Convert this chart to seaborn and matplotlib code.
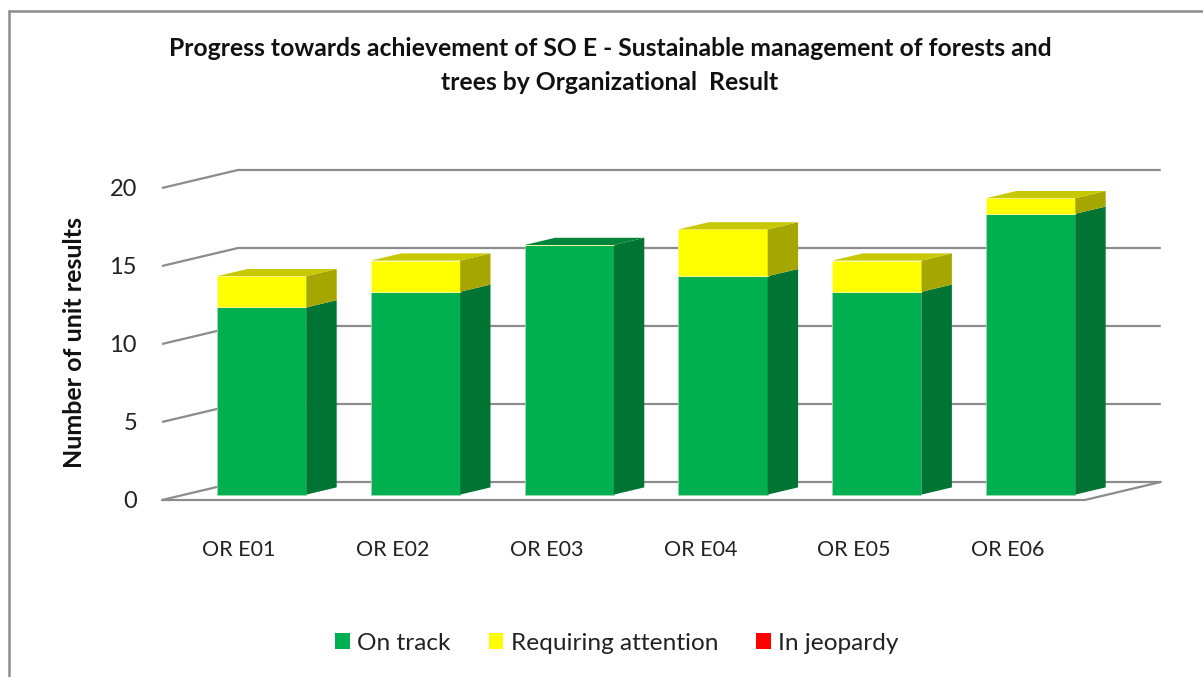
import matplotlib
matplotlib.use("Agg")
import matplotlib.pyplot as plt
from matplotlib.patches import Polygon, Patch
from matplotlib.lines import Line2D
import numpy as np
import pandas as pd
import seaborn as sns

# ---- data ----
categories = ["OR E01", "OR E02", "OR E03", "OR E04", "OR E05", "OR E06"]
on_track = [12, 13, 16, 14, 13, 18]
requiring_attention = [2, 2, 0, 3, 2, 1]
in_jeopardy = [0, 0, 0, 0, 0, 0]
series_names = ["On track", "Requiring attention", "In jeopardy"]
y_ticks = [0, 5, 10, 15, 20]
title_lines = ["Progress towards achievement of SO E - Sustainable management of forests and",
               "trees by Organizational  Result"]
y_label = "Number of unit results"

# ---- style ----
sns.set_theme(style="white")
plt.rcParams["font.family"] = ["Lato", "DejaVu Sans"]

front_cols = ["#00B050", "#FFFF00", "#FF0000"]
side_cols = ["#007433", "#A6A600", "#A60000"]
top_cols = ["#00853B", "#C8C800", "#C80000"]
grid_col = "#8C8C8C"

W, H = 1203, 677
fig = plt.figure(figsize=(W / 100, H / 100), dpi=100)

# 3D projection parameters (data units)
DX, DY = 0.494, 1.154      # full depth offset of back wall
D_FRONT, D_BACK = 0.30, 0.70
BAR_W = 0.58

xl, xr = -0.5, 6.05
yb, yt = 0.0, 21.5
px_x, px_y = 153.8, 15.6
left_px, bottom_px = 162, 500
ax = fig.add_axes([left_px / W, (H - bottom_px) / H,
                   (xr - xl) * px_x / W, (yt - yb) * px_y / H])
ax.set_xlim(xl, xr)
ax.set_ylim(yb, yt)
for s in ax.spines.values():
    s.set_visible(False)

n = len(categories)
idx = np.arange(n)

# walls / gridlines
for v in y_ticks:
    ax.plot([xl, xl + DX, n - 0.5 + DX], [v, v + DY, v + DY],
            color=grid_col, lw=1.6, zorder=1, clip_on=False, solid_capstyle="butt")
# floor
ax.plot([xl, n - 0.5, n - 0.5 + DX], [0, 0, DY], color=grid_col, lw=1.6,
        zorder=1, clip_on=False)

fx = D_FRONT * DX
fy = D_FRONT * DY
depth_x = (D_BACK - D_FRONT) * DX
depth_y = (D_BACK - D_FRONT) * DY

stack = [np.array(on_track, float), np.array(requiring_attention, float),
         np.array(in_jeopardy, float)]
bottoms = np.zeros(n)
df_pos = idx + fx
tops_idx = np.zeros(n, dtype=int)
for k, vals in enumerate(stack):
    for i in range(n):
        if vals[i] > 0:
            tops_idx[i] = k
for k, vals in enumerate(stack):
    dfk = pd.DataFrame({"x": df_pos, "v": vals})
    if vals.sum() > 0:
        sns.barplot(data=dfk, x="x", y="v", native_scale=True, width=BAR_W,
                    color=front_cols[k], saturation=1, bottom=bottoms + fy, ax=ax,
                    edgecolor="#9ad8b0" if k == 0 else "#ffff99", linewidth=0.6, zorder=3)
    for i in range(n):
        if vals[i] <= 0:
            continue
        xr_ = df_pos[i] + BAR_W / 2
        xl_ = df_pos[i] - BAR_W / 2
        y0 = bottoms[i] + fy
        y1 = bottoms[i] + vals[i] + fy
        side = Polygon([[xr_, y0], [xr_ + depth_x, y0 + depth_y],
                        [xr_ + depth_x, y1 + depth_y], [xr_, y1]],
                       closed=True, facecolor=side_cols[k], edgecolor="none", zorder=3)
        ax.add_patch(side)
        if tops_idx[i] == k:
            top = Polygon([[xl_, y1], [xr_, y1], [xr_ + depth_x, y1 + depth_y],
                           [xl_ + depth_x, y1 + depth_y]],
                          closed=True, facecolor=top_cols[k], edgecolor="none", zorder=3)
            ax.add_patch(top)
    bottoms = bottoms + vals

ax.set_xlim(xl, xr)
ax.set_ylim(yb, yt)
ax.set_xticks(idx)
ax.set_xticklabels(categories, fontsize=15.5, color="#222222")
ax.set_yticks(y_ticks)
ax.set_yticklabels([str(t) for t in y_ticks], fontsize=17, color="#222222")
ax.tick_params(axis="x", length=0, pad=29)
ax.tick_params(axis="y", length=0, pad=18)
ax.set_xlabel("")
ax.set_ylabel("")
ax.grid(False)

# texts
fig.text(610 / W, 1 - 49 / H, title_lines[0], ha="center", va="center",
         fontsize=17.8, fontweight="bold", color="#111111")
fig.text(610 / W, 1 - 83 / H, title_lines[1], ha="center", va="center",
         fontsize=17.8, fontweight="bold", color="#111111")
fig.text(75 / W, 1 - 342 / H, y_label, rotation=90, ha="center", va="center",
         fontsize=18, fontweight="bold", color="#111111")

handles = [Patch(facecolor=c, edgecolor="none") for c in front_cols]
fig.legend(handles, series_names, loc="center", bbox_to_anchor=(617 / W, 1 - 643 / H),
           ncol=3, frameon=False, fontsize=17.6, handlelength=0.6, handleheight=0.6,
           handletextpad=0.3, columnspacing=1.55, labelcolor="#222222")

# border
fig.add_artist(Line2D([9 / W, 9 / W], [0, 1 - 11 / H], color="#8C8C8C", lw=1.8,
                      transform=fig.transFigure))
fig.add_artist(Line2D([9 / W, 1], [1 - 11 / H, 1 - 11 / H], color="#8C8C8C", lw=1.8,
                      transform=fig.transFigure))

fig.savefig("out.png", dpi=100)
